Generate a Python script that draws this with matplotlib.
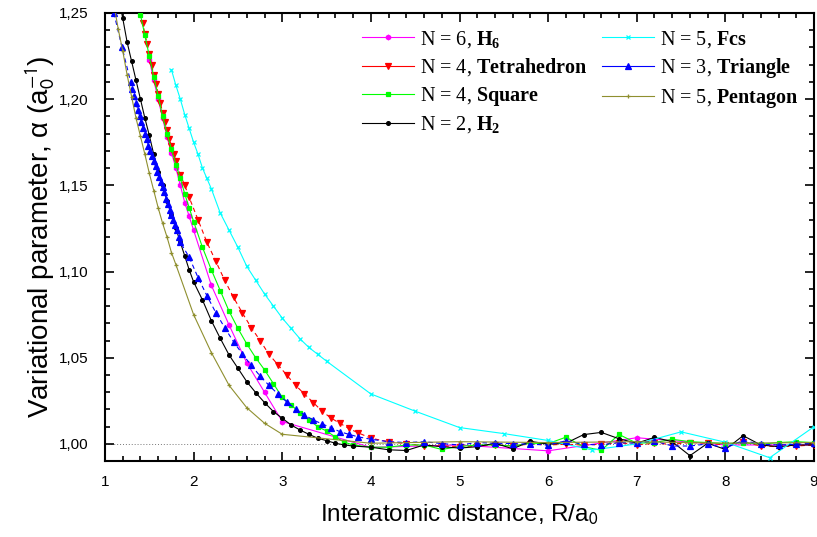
import matplotlib
matplotlib.use('Agg')
import matplotlib.pyplot as plt
from matplotlib.lines import Line2D
from matplotlib.ticker import MultipleLocator, FuncFormatter
from matplotlib.font_manager import FontProperties

plt.rcParams['font.family'] = 'Liberation Sans'
plt.rcParams['mathtext.fontset'] = 'custom'
plt.rcParams['mathtext.rm'] = 'Liberation Serif'
plt.rcParams['mathtext.bf'] = 'Liberation Serif:bold'
plt.rcParams['mathtext.it'] = 'Liberation Serif:italic'

# shared tail grid (R/a0 = 4 ... 9)
x_tail = [4.0, 4.2, 4.4, 4.6, 4.8, 5.0, 5.2, 5.4, 5.6, 5.8, 6.0, 6.2, 6.4,
          6.6, 6.8, 7.0, 7.2, 7.4, 7.6, 7.8, 8.0, 8.2, 8.4, 8.6, 8.8, 9.0]

# N = 2, H2
x_h2 = [1.15, 1.20, 1.25, 1.30, 1.35, 1.40, 1.45, 1.50, 1.55, 1.60, 1.65, 1.70,
        1.75, 1.80, 1.85, 1.90, 1.95, 2.0, 2.1, 2.2, 2.3, 2.4, 2.5, 2.6, 2.7,
        2.8, 2.9, 3.0, 3.1, 3.2, 3.3, 3.4, 3.5, 3.6, 3.7, 3.8] + x_tail
y_h2 = [1.260, 1.247, 1.233, 1.222, 1.211, 1.200, 1.189, 1.179, 1.168, 1.158,
        1.150, 1.141, 1.133, 1.125, 1.117, 1.109, 1.101, 1.094, 1.0835, 1.0715,
        1.0613, 1.0516, 1.0439, 1.0361, 1.0298, 1.0240, 1.0188, 1.0149, 1.0110,
        1.0081, 1.0056, 1.0033, 1.0019, 1.0004, 0.9994, 0.9988,
        0.9981, 0.9966, 0.9962, 0.9994, 0.9984, 0.9976, 0.9984, 1.0004, 0.9972,
        1.0015, 0.9999, 1.0004, 1.0054, 1.0067, 1.0030, 1.0004, 1.0038, 1.0013,
        0.9932, 1.0004, 0.9968, 1.0048, 0.9994, 0.9984, 0.9994, 0.9994]

# N = 4, Tetrahedron
x_tet = [1.400, 1.425, 1.450, 1.475, 1.500, 1.525, 1.550, 1.575, 1.600, 1.625,
         1.650, 1.675, 1.700, 1.725, 1.750, 1.775, 1.800, 1.850, 1.900, 1.950,
         2.05, 2.15, 2.25, 2.35, 2.45, 2.55, 2.65, 2.75, 2.85, 2.95, 3.05, 3.15,
         3.25, 3.35, 3.45, 3.55, 3.65, 3.75, 3.85] + x_tail
y_tet = [1.250, 1.244, 1.238, 1.232, 1.226, 1.220, 1.214, 1.209, 1.203, 1.198,
         1.192, 1.187, 1.182, 1.177, 1.173, 1.168, 1.164, 1.156, 1.150, 1.143,
         1.130, 1.117, 1.106, 1.095, 1.085, 1.076, 1.0675, 1.060, 1.052, 1.046,
         1.040, 1.034, 1.029, 1.024, 1.019, 1.015, 1.012, 1.009, 1.0066,
         1.0033, 1.0013, 1.0002, 0.9988, 0.9988, 0.9985, 0.9988, 0.9994, 0.9988,
         1.0000, 0.9994, 0.9998, 0.9994, 0.9998, 1.0008, 0.9994, 1.0004, 0.9998,
         1.0008, 1.0004, 0.9994, 1.0013, 0.9988, 0.9984, 0.9988, 0.9994]

# N = 4, Square
x_sq = [1.40, 1.45, 1.50, 1.55, 1.60, 1.65, 1.70, 1.75, 1.80, 1.85, 1.90, 1.95,
        2.0, 2.1, 2.2, 2.3, 2.4, 2.5, 2.6, 2.7, 2.8, 2.9, 3.0, 3.1, 3.2, 3.3,
        3.4, 3.5, 3.6, 3.7, 3.8] + x_tail
y_sq = [1.249, 1.237, 1.225, 1.213, 1.202, 1.190, 1.180, 1.171, 1.162, 1.154,
        1.145, 1.137, 1.129, 1.114, 1.101, 1.089, 1.077, 1.067, 1.058, 1.050,
        1.043, 1.035, 1.027, 1.0226, 1.018, 1.014, 1.010, 1.0075, 1.004, 1.001,
        0.9994,
        0.9981, 0.9981, 0.9994, 0.9994, 0.9968, 0.9985, 0.9994, 0.9994, 0.9988,
        1.0004, 1.0002, 1.0039, 0.9984, 0.9963, 1.0055, 1.0004, 1.0008, 1.0027,
        1.0013, 1.0008, 1.0002, 1.0008, 0.9998, 1.0008, 1.0013, 1.0008]

# N = 6, H6
x_h6 = [1.50, 1.55, 1.60, 1.65, 1.70, 1.75, 1.80, 1.85, 1.90, 1.95, 2.0,
        2.2, 2.4, 2.6, 2.8, 3.0, 4.0, 5.0, 6.0, 7.0, 8.0, 9.0]
y_h6 = [1.223, 1.211, 1.200, 1.189, 1.178, 1.169, 1.160, 1.150, 1.140, 1.132,
        1.124, 1.092, 1.069, 1.047, 1.030, 1.013, 0.9980, 0.9994, 0.9960,
        1.0036, 0.9994, 0.9994]

# N = 3, Triangle
x_tri = [1.10, 1.19, 1.29, 1.31, 1.33, 1.35, 1.37, 1.39, 1.41, 1.43, 1.45, 1.47,
         1.49, 1.51, 1.53, 1.55, 1.57, 1.59, 1.61, 1.63, 1.65, 1.67, 1.69, 1.71,
         1.73, 1.75, 1.77, 1.79, 1.81, 1.83, 1.85, 1.95, 2.05, 2.15, 2.25, 2.35,
         2.45, 2.55, 2.65, 2.75, 2.85, 2.95, 3.05, 3.15, 3.25, 3.35, 3.45, 3.55,
         3.65, 3.75, 3.85] + x_tail
y_tri = [1.250, 1.2305, 1.210, 1.206, 1.202, 1.198, 1.194, 1.190, 1.187, 1.183,
         1.180, 1.177, 1.173, 1.170, 1.167, 1.164, 1.161, 1.158, 1.155, 1.152,
         1.149, 1.146, 1.142, 1.139, 1.136, 1.133, 1.130, 1.127, 1.124, 1.120,
         1.117, 1.1083, 1.0965, 1.086, 1.0762, 1.0675, 1.0593, 1.0522, 1.0456,
         1.0394, 1.034, 1.029, 1.0244, 1.0203, 1.0168, 1.0139, 1.0116, 1.0095,
         1.0071, 1.0056, 1.0042,
         1.0027, 1.0013, 1.0008, 1.0013, 1.0002, 0.9994, 1.0008, 1.0004, 1.0002,
         0.9998, 0.9994, 1.0018, 0.9998, 0.9994, 1.0008, 1.0004, 1.0018, 0.9988,
         0.9988, 1.0000, 0.9976, 1.0020, 0.9998, 0.9994, 0.9998, 1.0004]

# N = 5, Fcs
x_fcs = [1.75, 1.80, 1.85, 1.90, 1.95, 2.00, 2.05, 2.10, 2.15, 2.20, 2.3, 2.4,
         2.5, 2.6, 2.7, 2.8, 2.9, 3.0, 3.1, 3.2, 3.3, 3.4, 3.5, 4.0, 4.5, 5.0,
         5.5, 6.0, 6.5, 7.0, 7.5, 8.0, 8.5, 9.0]
y_fcs = [1.217, 1.208, 1.200, 1.191, 1.183, 1.175, 1.168, 1.160, 1.154, 1.148,
         1.134, 1.124, 1.114, 1.103, 1.095, 1.087, 1.080, 1.073, 1.067, 1.061,
         1.056, 1.052, 1.048, 1.029, 1.019, 1.0095, 1.006, 1.002, 0.9965,
         1.000, 1.007, 1.001, 0.992, 1.010]

# N = 5, Pentagon
x_pent = [1.10, 1.15, 1.20, 1.25, 1.30, 1.35, 1.40, 1.45, 1.50, 1.55, 1.60,
          1.65, 1.70, 1.75, 1.80, 2.0, 2.2, 2.4, 2.6, 2.8, 3.0,
          4.0, 5.0, 6.0, 7.0, 8.0, 9.0]
y_pent = [1.255, 1.2405, 1.228, 1.214, 1.2015, 1.189, 1.1785, 1.168, 1.157,
          1.147, 1.137, 1.128, 1.120, 1.111, 1.104, 1.075, 1.053, 1.034, 1.021,
          1.012, 1.0056, 1.0004, 1.0013, 1.0008, 1.0013, 1.0004, 1.0008]

olive = '#8f8f2f'
series = [
    (x_h6, y_h6, '#ff00ff', 'h', 3.4, '-', r'N = 6, $\mathbf{H_6}$'),
    (x_tet, y_tet, '#ff0000', 'v', 4.1, (0, (4, 3)), r'N = 4, $\mathbf{Tetrahedron}$'),
    (x_sq, y_sq, '#00ff00', 's', 2.9, '-', r'N = 4, $\mathbf{Square}$'),
    (x_h2, y_h2, '#000000', 'o', 2.7, '-', r'N = 2, $\mathbf{H_2}$'),
    (x_fcs, y_fcs, '#00ffff', 'x', 3.4, '-', r'N = 5, $\mathbf{Fcs}$'),
    (x_tri, y_tri, '#0000ff', '^', 3.7, (0, (4, 3)), r'N = 3, $\mathbf{Triangle}$'),
    (x_pent, y_pent, olive, '+', 3.4, '-', r'N = 5, $\mathbf{Pentagon}$'),
]

fig = plt.figure(figsize=(8.17, 5.37), dpi=100)
ax = fig.add_axes([105 / 817, 1 - 461 / 537, 709 / 817, 448 / 537])

ax.axhline(1.0, color='#777777', ls=(0, (1, 2)), lw=0.7, zorder=1)

handles = []
for xs, ys, col, mk, ms, ls, lab in series:
    ax.plot(xs, ys, color=col, marker=mk, ms=ms, ls=ls, lw=0.8, mew=0.9,
            zorder=3)
    handles.append(Line2D([], [], color=col, marker=mk, ms=ms, ls='-', lw=0.8,
                          mew=0.9, label=lab))

ax.set_xlim(1, 9)
ax.set_ylim(0.9901, 1.25)
ax.xaxis.set_major_locator(MultipleLocator(1))
ax.xaxis.set_minor_locator(MultipleLocator(0.2))
ax.yaxis.set_major_locator(MultipleLocator(0.05))
ax.yaxis.set_minor_locator(MultipleLocator(0.01))
ax.xaxis.set_major_formatter(FuncFormatter(lambda v, p: '%d' % round(v)))
ax.yaxis.set_major_formatter(FuncFormatter(lambda v, p: ('%.2f' % v).replace('.', ',')))

for s in ax.spines.values():
    s.set_linewidth(1.5)
ax.tick_params(which='both', direction='in', top=True, right=True,
               labelsize=11, width=1.2)
ax.tick_params(which='major', length=6.5)
ax.tick_params(which='minor', length=3.5)
ax.tick_params(axis='x', pad=10)
ax.tick_params(axis='y', pad=12)

ax.set_xlabel(r'Interatomic distance, R/a$_0$', fontsize=17.5,
              math_fontfamily='stixsans')
ax.xaxis.set_label_coords(0.5, -0.092)
ax.set_ylabel(r'Variational parameter, α (a$_0^{-1}$)', fontsize=20,
              math_fontfamily='stixsans')
ax.yaxis.set_label_coords(-0.068, 0.5)

leg_font = FontProperties(family='Liberation Serif', size=14.5,
                          math_fontfamily='custom')
leg_kw = dict(loc='upper left', frameon=False, bbox_transform=fig.transFigure,
              prop=leg_font, numpoints=1, handlelength=2.6, handletextpad=0.3,
              labelspacing=0.32, borderpad=0, borderaxespad=0)
leg1 = ax.legend(handles=handles[:4], bbox_to_anchor=(362 / 817, 1 - 29 / 537),
                 **leg_kw)
ax.add_artist(leg1)
ax.legend(handles=handles[4:], bbox_to_anchor=(602 / 817, 1 - 29 / 537), **leg_kw)

fig.savefig('out.png', dpi=100)
